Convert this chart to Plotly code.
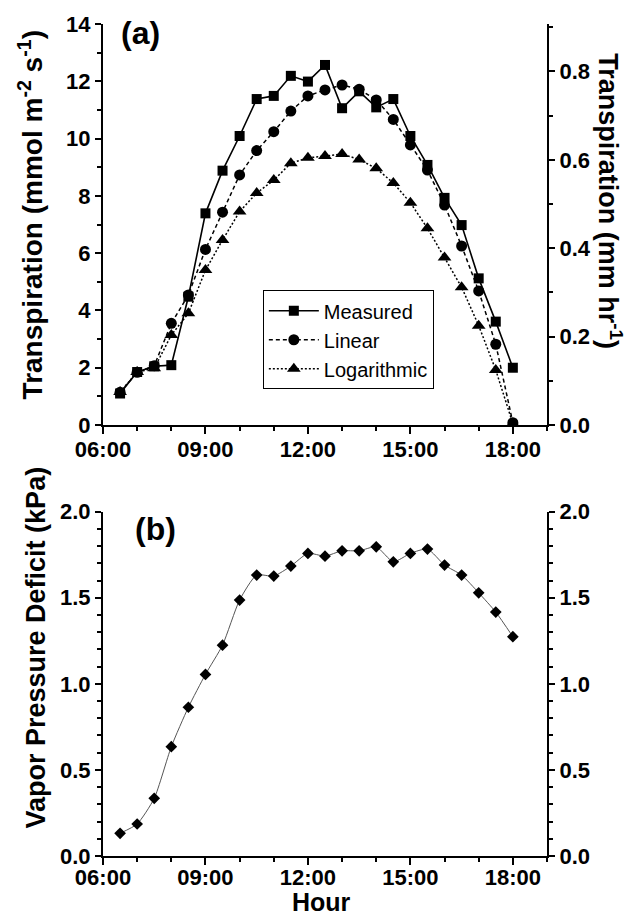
import plotly.graph_objects as go

# ---------------- data ----------------
hours = [6.5, 7, 7.5, 8, 8.5, 9, 9.5, 10, 10.5, 11, 11.5, 12,
         12.5, 13, 13.5, 14, 14.5, 15, 15.5, 16, 16.5, 17, 17.5, 18]
measured = [1.10, 1.85, 2.05, 2.09, 4.48, 7.39, 8.88, 10.09, 11.38, 11.49, 12.19, 11.99,
            12.57, 11.06, 11.65, 11.09, 11.38, 10.09, 9.08, 7.93, 6.98, 5.12, 3.61, 2.00]
linear = [1.14, 1.84, 2.07, 3.55, 4.54, 6.13, 7.43, 8.73, 9.58, 10.24, 10.96, 11.49,
          11.70, 11.87, 11.72, 11.35, 10.67, 9.78, 8.90, 7.68, 6.25, 4.68, 2.82, 0.08]
logarithmic = [1.15, 1.85, 1.98, 3.14, 3.90, 5.41, 6.46, 7.45, 8.10, 8.55, 9.14, 9.33,
               9.39, 9.46, 9.27, 8.96, 8.45, 7.76, 6.87, 5.85, 4.81, 3.47, 1.92, 0.05]
vpd = [0.132, 0.186, 0.335, 0.635, 0.864, 1.055, 1.225, 1.487, 1.632, 1.626, 1.684, 1.758,
       1.742, 1.773, 1.773, 1.796, 1.709, 1.758, 1.783, 1.690, 1.632, 1.529, 1.417, 1.274]

hour_ticks = [6, 9, 12, 15, 18]
hour_labels = ["06:00", "09:00", "12:00", "15:00", "18:00"]
trans_ticks = [0, 2, 4, 6, 8, 10, 12, 14]
mmhr_ticks = [0.0, 0.2, 0.4, 0.6, 0.8]
vpd_ticks = [0.0, 0.5, 1.0, 1.5, 2.0]
MMOL_TO_MMHR = 0.0648  # 1 mmol m-2 s-1 of water = 0.0648 mm hr-1

FONT = "Arial, Liberation Sans, sans-serif"
tickfont = dict(family=FONT, size=22, color="black", weight="bold")


def tfont(size):
    return dict(family=FONT, size=size, color="black", weight="bold")


fig = go.Figure()

fig.add_trace(go.Scatter(
    x=hours, y=measured, name="Measured", mode="lines+markers",
    line=dict(color="black", width=1.6),
    marker=dict(symbol="square", size=10, color="black"),
    xaxis="x", yaxis="y"))
fig.add_trace(go.Scatter(
    x=hours, y=linear, name="Linear", mode="lines+markers",
    line=dict(color="black", width=1.5, dash="4px,3px"),
    marker=dict(symbol="circle", size=11, color="black"),
    xaxis="x", yaxis="y"))
fig.add_trace(go.Scatter(
    x=hours, y=logarithmic, name="Logarithmic", mode="lines+markers",
    line=dict(color="black", width=1.5, dash="2px,2px"),
    marker=dict(symbol="triangle-up", size=12, color="black"),
    xaxis="x", yaxis="y"))
# same measured series in mm/hr, invisible, so the right-hand axis is drawn
fig.add_trace(go.Scatter(
    x=hours, y=[v * MMOL_TO_MMHR for v in measured], mode="markers", showlegend=False,
    marker=dict(opacity=0), hoverinfo="skip", xaxis="x", yaxis="y2"))
fig.add_trace(go.Scatter(
    x=hours, y=vpd, name="VPD", mode="lines+markers", showlegend=False,
    line=dict(color="#555555", width=1, shape="spline", smoothing=0.6),
    marker=dict(symbol="diamond", size=9, color="black"),
    xaxis="x2", yaxis="y3"))
fig.add_trace(go.Scatter(
    x=hours, y=vpd, mode="markers", showlegend=False,
    marker=dict(opacity=0), hoverinfo="skip", xaxis="x2", yaxis="y4"))

common_x = dict(
    range=[6, 19], tickmode="array", tickvals=hour_ticks, ticktext=hour_labels,
    ticks="outside", ticklen=7, tickwidth=1.5, tickcolor="black",
    minor=dict(dtick=1, tick0=6, ticks="outside", ticklen=4, tickwidth=1.5, tickcolor="black"),
    showline=True, linecolor="black", linewidth=2, showgrid=False, zeroline=False,
    tickfont=tickfont, automargin=False)
common_y = dict(
    ticks="outside", ticklen=6, tickwidth=1.5, tickcolor="black",
    showline=True, linecolor="black", linewidth=2, showgrid=False, zeroline=False,
    tickfont=tickfont, automargin=False)

# page body adds an 8px offset, so the figure is 8px smaller and margins shifted
fig.update_layout(
    width=633, height=910,
    margin=dict(l=95, r=94, t=16, b=62),
    paper_bgcolor="white", plot_bgcolor="white",
    showlegend=True,
    legend=dict(x=0.36, y=0.680, xanchor="left", yanchor="top",
                bordercolor="black", borderwidth=1, bgcolor="white",
                font=dict(family=FONT, size=20, color="black"),
                itemwidth=50, tracegroupgap=0),
    xaxis=dict(domain=[0, 1], anchor="y", ticklabelstandoff=-3, **common_x),
    yaxis=dict(domain=[0.518, 1], anchor="x", range=[0, 14],
               tickvals=trans_ticks,
               minor=dict(dtick=1, ticks="outside", ticklen=4, tickwidth=1.5, tickcolor="black"),
               **common_y),
    yaxis2=dict(overlaying="y", side="right", anchor="x", range=[0, 14 * MMOL_TO_MMHR],
                tickvals=mmhr_ticks, tickformat=".1f",
                minor=dict(dtick=0.1, ticks="outside", ticklen=4, tickwidth=1.5, tickcolor="black"),
                **common_y),
    xaxis2=dict(domain=[0, 1], anchor="y3", ticklabelstandoff=-6, **common_x),
    yaxis3=dict(domain=[0, 0.4138], anchor="x2", range=[0, 2.0],
                tickvals=vpd_ticks, tickformat=".1f",
                minor=dict(dtick=0.1, ticks="outside", ticklen=4, tickwidth=1.5, tickcolor="black"),
                **common_y),
    yaxis4=dict(overlaying="y3", side="right", anchor="x2", range=[0, 2.0],
                tickvals=vpd_ticks, tickformat=".1f",
                minor=dict(dtick=0.1, ticks="outside", ticklen=4, tickwidth=1.5, tickcolor="black"),
                **common_y),
)

titles = [
    ("Transpiration (mmol m<sup>-2</sup> s<sup>-1</sup>)", -0.162, 0.770, -90, 28, "middle"),
    ("Transpiration (mm hr<sup>-1</sup>)", 1.142, 0.787, 90, 27, "middle"),
    ("Vapor Pressure Deficit (kPa)", -0.152, 0.250, -90, 27, "middle"),
    ("Hour", 0.493, -0.0745, 0, 25, "bottom"),
]
for text, x, y, ang, size, ya in titles:
    fig.add_annotation(text=text, xref="paper", yref="paper", x=x, y=y,
                       xanchor="center", yanchor=ya, textangle=ang,
                       showarrow=False, font=tfont(size))

# panel labels
fig.add_annotation(text="(a)", xref="paper", yref="paper", x=0.085, y=0.989,
                   xanchor="center", yanchor="middle", showarrow=False, font=tfont(32))
fig.add_annotation(text="(b)", xref="paper", yref="paper", x=0.118, y=0.393,
                   xanchor="center", yanchor="middle", showarrow=False, font=tfont(32))

fig.write_html("out.html")
